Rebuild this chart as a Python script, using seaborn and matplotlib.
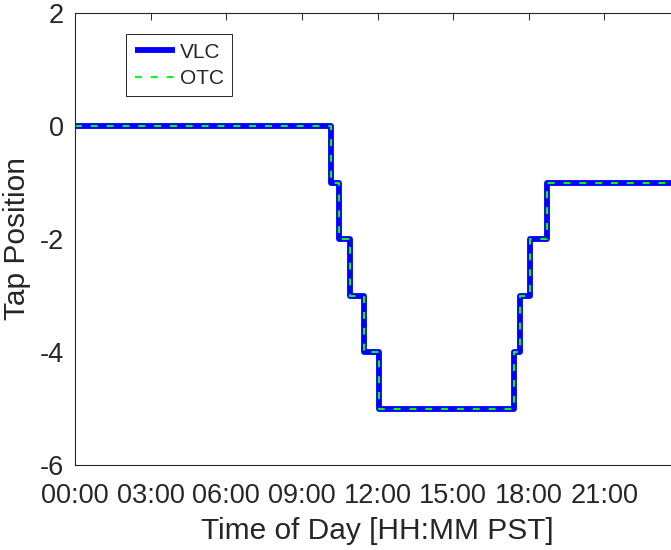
import matplotlib
matplotlib.use("Agg")
import matplotlib.pyplot as plt
import seaborn as sns
import pandas as pd
import numpy as np

# Data (hours of day, tap position)
hours = [0.0, 10.15, 10.48, 10.9, 11.47, 12.06, 17.4, 17.66, 18.06, 18.72, 24.0]
vlc_tap = [0, -1, -2, -3, -4, -5, -4, -3, -2, -1, -1]
otc_tap = [0, -1, -2, -3, -4, -5, -4, -3, -2, -1, -1]
xtick_hours = [0, 3, 6, 9, 12, 15, 18, 21]
xtick_labels = ["00:00", "03:00", "06:00", "09:00", "12:00", "15:00", "18:00", "21:00"]
ytick_vals = [-6, -4, -2, 0, 2]

sns.set_style("white")
plt.rcParams['font.family'] = ['Liberation Sans', 'DejaVu Sans']

fig = plt.figure(figsize=(6.71, 5.5), dpi=100)
ax = fig.add_axes([75/671, 1-465/550, 605/671, 452/550])

df = pd.DataFrame({"hour": hours, "VLC": vlc_tap, "OTC": otc_tap})
sns.lineplot(data=df, x="hour", y="VLC", ax=ax, color="#0000ff", lw=4.2,
             drawstyle="steps-post", label="VLC", solid_joinstyle="round",
             solid_capstyle="butt")
sns.lineplot(data=df, x="hour", y="OTC", ax=ax, color="#00ff00", lw=1.5,
             drawstyle="steps-post", label="OTC", linestyle=(0, (3.3, 4.3)))

ax.set_xlim(0, 24)
ax.set_ylim(-6, 2)
ax.set_xticks(xtick_hours)
ax.set_xticklabels(xtick_labels)
ax.set_yticks(ytick_vals)
ax.set_yticklabels([str(v) for v in ytick_vals])

tc = "#262626"
ax.tick_params(direction="in", length=5, width=0.7, colors=tc, labelsize=19.5,
               top=True, right=True)
ax.tick_params(axis="y", pad=8)
ax.tick_params(axis="x", pad=13)
for s in ax.spines.values():
    s.set_color(tc)
    s.set_linewidth(0.8)
    s.set_visible(True)

ax.set_xlabel("Time of Day [HH:MM PST]", fontsize=21.5, color=tc, labelpad=6)
ax.set_ylabel("Tap Position", fontsize=21.5, color=tc, labelpad=6)

leg = ax.legend(loc="upper left", bbox_to_anchor=(0.085, 0.953), borderaxespad=0,
                fontsize=15, frameon=True, fancybox=False, handlelength=1.95,
                handletextpad=0.2, borderpad=0.4, labelspacing=0.35)
leg.get_frame().set_edgecolor(tc)
leg.get_frame().set_linewidth(0.7)
leg.get_frame().set_alpha(1)

fig.savefig("out.png", dpi=100)
